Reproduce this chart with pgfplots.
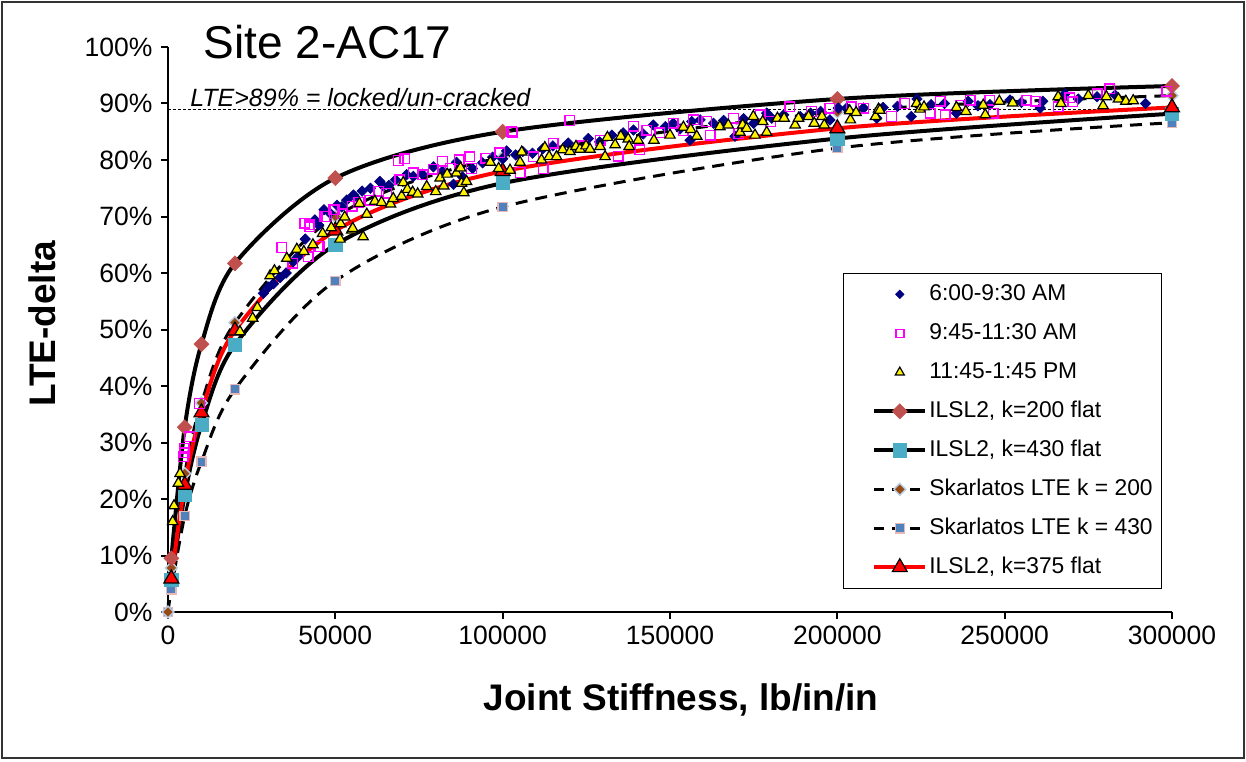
\documentclass[border=0pt]{standalone}
\usepackage{pgfplots}
\pgfplotsset{compat=1.18}
\usepackage{fontspec}
\setmainfont{Liberation Sans}
\definecolor{navyd}{RGB}{0,0,128}
\definecolor{ilsa}{RGB}{192,80,77}
\definecolor{ilsb}{RGB}{75,172,198}
\definecolor{skbrown}{RGB}{150,75,20}
\definecolor{skblue}{RGB}{79,129,189}
\definecolor{skpink}{RGB}{230,185,184}
\definecolor{skltblue}{RGB}{185,205,229}
\definecolor{mag}{RGB}{255,0,255}
\pgfplotsset{mylegimg/.style={legend image code/.code={\path (-11pt,0pt); \draw[mark repeat=2,mark phase=2,##1] plot coordinates {(0cm,0cm) (0.45cm,0cm) (0.9cm,0cm)};}}}
\begin{document}
\begin{tikzpicture}
\begin{axis}[
  at={(0pt,0pt)}, anchor=south west,
  scale only axis, width=502pt, height=282.5pt,
  xmin=0, xmax=300000, ymin=0, ymax=100,
  axis lines=left, axis line style={-, line width=1pt},
  clip=false,
  xtick={0,50000,100000,150000,200000,250000,300000},
  ytick={0,10,20,30,40,50,60,70,80,90,100},
  tick style={black, line width=1pt}, major tick length=3.25pt,
  tick align=outside,
  scaled x ticks=false,
  /pgf/number format/1000 sep={},
  /pgf/number format/assume math mode=true,
  xticklabel={\pgfmathprintnumber[fixed,precision=0,1000 sep={}]{\tick}},
  yticklabel={\pgfmathprintnumber[fixed,precision=0]{\tick}\%},
  tick label style={font=\fontsize{13.25}{16}\selectfont},
  xticklabel style={font=\fontsize{13.25}{16}\selectfont},
  yticklabel style={font=\fontsize{13.25}{16}\selectfont, xshift=-1pt},
  xlabel={Joint Stiffness, lb/in/in},
  xlabel style={font=\bfseries\fontsize{18.5}{22}\selectfont, at={(axis description cs:0.511,-0.156)}, anchor=center},
  ylabel={LTE-delta},
  ylabel style={font=\bfseries\fontsize{18.5}{22}\selectfont, at={(axis description cs:-0.1255,0.51)}, anchor=center},
  legend style={at={(rel axis cs:0.672,0.041)}, anchor=south west, draw=black, line width=0.5pt, fill=white,
    font=\fontsize{11.4}{13.5}\selectfont, inner xsep=3.5pt, inner ysep=4.25pt, row sep=7.0pt,
    nodes={inner sep=1pt, text height=8.5pt, text depth=2pt}},
  legend cell align=left,
  mylegimg,
]
% ---------- legend images (order as in the reference) ----------
\addlegendimage{only marks, mark=square*, mark size=1.5pt, mark options={rotate=45, fill=navyd, draw=navyd, line width=0.3pt}, mylegimg}
\addlegendentry{6:00-9:30 AM}
\addlegendimage{only marks, mark=square, mark size=2pt, mark options={draw=mag, line width=0.7pt}, mylegimg}
\addlegendentry{9:45-11:30 AM}
\addlegendimage{only marks, mark=triangle*, mark size=2.6pt, mark options={fill=yellow, draw=black, line width=0.6pt}, mylegimg}
\addlegendentry{11:45-1:45 PM}
\addlegendimage{black, line width=2pt, mark=square*, mark size=2.65pt, mark options={rotate=45, fill=ilsa, draw=ilsa, line width=0.3pt}}
\addlegendentry{ILSL2, k=200 flat}
\addlegendimage{black, line width=2pt, mark=square*, mark size=3.3pt, mark options={fill=ilsb, draw=ilsb, line width=0.3pt}}
\addlegendentry{ILSL2, k=430 flat}
\addlegendimage{black, line width=1.5pt, dash pattern=on 5pt off 4pt, mark=square*, mark size=2.1pt, mark options={solid, rotate=45, fill=skbrown, draw=skltblue, line width=0.7pt}}
\addlegendentry{Skarlatos LTE k = 200}
\addlegendimage{black, line width=1.5pt, dash pattern=on 5pt off 4pt, mark=square*, mark size=2.3pt, mark options={solid, fill=skblue, draw=skpink, line width=0.7pt}}
\addlegendentry{Skarlatos LTE k = 430}
\addlegendimage{red, line width=2pt, mark=triangle*, mark size=4.3pt, mark options={fill=red, draw=black, line width=0.6pt}}
\addlegendentry{ILSL2, k=375 flat}

% ---------- reference line ----------
\addplot[forget plot, black, line width=0.5pt, dash pattern=on 1.5pt off 1pt] coordinates {(0,89) (300000,89)};

% ---------- model curves ----------
\addplot[forget plot, black, line width=1.5pt, dash pattern=on 6pt off 4pt, smooth, tension=0.5,
  mark=square*, mark size=2.3pt, mark options={solid, fill=skblue, draw=skpink, line width=0.7pt}]
  coordinates {(0,0) (1000,4) (5000,17.0) (10000,26.6) (20000,39.4) (50000,58.6) (100000,71.7) (200000,82.1) (300000,86.6)};
\addplot[forget plot, black, line width=1.5pt, dash pattern=on 6pt off 4pt, smooth, tension=0.5,
  mark=square*, mark size=2.1pt, mark options={solid, rotate=45, fill=skbrown, draw=skltblue, line width=0.7pt}]
  coordinates {(0,0) (1000,7.8) (5000,24.5) (10000,37.0) (20000,51.2) (50000,70.0) (100000,80.5) (200000,88.5) (300000,91.4)};
\addplot[forget plot, black, line width=2pt, smooth, tension=0.5,
  mark=square*, mark size=2.65pt, mark options={rotate=45, fill=ilsa, draw=ilsa, line width=0.3pt}]
  coordinates {(1000,9.5) (5000,32.7) (10000,47.4) (20000,61.7) (50000,76.8) (100000,85.0) (200000,90.8) (300000,93.1)};
\addplot[forget plot, black, line width=2pt, smooth, tension=0.5,
  mark=square*, mark size=3.3pt, mark options={fill=ilsb, draw=ilsb, line width=0.3pt}]
  coordinates {(1000,5.7) (5000,20.7) (10000,33.1) (20000,47.3) (50000,65.0) (100000,75.9) (200000,83.8) (300000,88.2)};
\addplot[forget plot, red, line width=2pt, smooth, tension=0.5,
  mark=triangle*, mark size=4.3pt, mark options={fill=red, draw=black, line width=0.6pt}]
  coordinates {(1000,5.9) (5000,22.5) (10000,35.3) (20000,49.8) (50000,67.5) (100000,78.0) (200000,85.6) (300000,89.3)};

% ---------- field data ----------
\addplot[forget plot, only marks, mark=square*, mark size=1.85pt, mark options={rotate=45, fill=navyd, draw=navyd, line width=0.3pt}]
  coordinates {
(28500,56.4) (30000,57.5) (31500,58.1) (33500,59.2) (35300,60.0) (37400,62.0) (39000,63.0) (41000,66.0)
(43900,69.4) (45000,68.5) (46600,71.2) (48400,70.6) (50500,72.0) (51900,71.7) (53400,72.9) (55400,73.8)
(55800,73.5) (58000,74.5) (60500,75.0) (63300,76.2) (64300,75.4) (66000,75.5) (68000,76.5) (71300,77.4)
(73300,77.1) (76000,77.5) (79300,78.8) (82000,78.0) (85300,75.7) (86200,79.6) (88000,77.0) (91000,78.5)
(94000,79.5) (97000,80.5) (100000,80.2) (101200,81.6) (103900,80.9) (106000,81.5) (108900,81.2) (112000,82.0)
(115000,82.5) (119600,83.0) (122000,82.4) (125600,83.8) (129000,83.2) (132600,84.4) (136000,84.8) (139100,85.3)
(142000,84.6) (145000,86.2) (148600,85.9) (151000,86.5) (153000,85.5) (156000,83.5) (156500,86.8) (159000,87.1)
(163000,86.5) (166000,87.0) (169400,84.2) (172000,87.3) (175000,86.5) (178900,88.3) (180400,87.4) (184000,88.0)
(188900,87.7) (192000,88.3) (195000,88.6) (197800,87.1) (200300,89.2) (202800,89.2) (207800,89.2) (211800,87.4)
(213700,89.3) (218000,89.5) (222100,87.7) (223800,90.8) (228000,89.8) (232000,90.0) (235600,88.3) (239100,90.4)
(242000,89.6) (245600,89.8) (251600,90.6) (255000,90.2) (260600,89.2) (261400,90.4) (267700,91.2) (268000,91.7)
(272000,90.8) (277600,91.2) (283000,91.5) (292100,90.0)
  };
\addplot[forget plot, only marks, mark=square, mark size=2.4pt, mark options={draw=mag, line width=0.7pt}]
  coordinates {
(4600,27.5) (4800,29.0) (5000,28.2) (6400,31.0) (9400,36.9) (34000,64.5) (37300,61.7) (40900,68.8)
(41900,62.9) (42200,68.5) (42400,68.2) (44900,64.7) (45400,64.7) (46900,70.0) (47400,70.0) (49400,71.2)
(49900,71.2) (52000,70.5) (55000,71.8) (57000,72.5) (60300,72.9) (63000,74.5) (65300,74.1) (68800,79.9)
(69300,76.5) (70800,80.2) (73300,77.7) (76100,77.4) (79300,78.4) (82000,79.8) (84300,78.5) (87000,80.0)
(90200,80.6) (90700,78.5) (95000,80.3) (99200,81.3) (102700,85.1) (103000,84.9) (105200,77.8) (109200,80.6)
(112100,78.5) (115100,83.0) (120100,87.0) (124000,82.5) (129100,83.5) (134500,80.7) (139100,86.0) (141000,81.8)
(143100,85.3) (147000,84.8) (151000,86.5) (154000,85.2) (157000,87.1) (161000,86.8) (162000,84.4) (169000,87.4)
(170500,84.7) (177000,88.0) (180000,86.8) (185800,89.4) (192300,88.6) (197800,89.2) (204200,89.4) (207800,89.2)
(216200,87.7) (220200,90.0) (227700,88.3) (230700,90.4) (232200,88.0) (236700,89.7) (239700,90.6) (245600,90.6)
(246600,88.3) (256600,90.6) (259100,90.4) (266000,89.4) (269500,91.0) (270400,90.3) (277600,91.7) (281400,92.6)
(298400,92.2)
  };
\addplot[forget plot, only marks, mark=triangle*, mark size=3pt, mark options={fill=yellow, draw=black, line width=0.6pt}]
  coordinates {
(1400,16.0) (1800,18.8) (3100,22.8) (3600,24.5) (21500,49.6) (25300,52.0) (26700,53.9) (30500,59.5)
(31800,60.4) (35500,62.6) (38500,64.2) (40600,63.8) (43300,65.0) (46200,67.0) (48800,68.0) (51400,66.0)
(51600,68.7) (52800,69.9) (54900,67.6) (55200,67.9) (57200,72.3) (58300,66.4) (59400,70.4) (61800,72.7)
(63800,72.5) (66500,72.2) (67300,73.2) (69800,73.6) (70300,76.0) (71500,74.8) (73100,74.3) (74600,74.0)
(77300,75.3) (80000,74.4) (81300,76.8) (82400,75.4) (83400,77.5) (86200,77.7) (87400,78.6) (87700,75.9)
(88400,74.2) (89200,76.2) (96300,79.6) (98800,78.5) (102200,78.2) (105200,79.6) (105700,81.4) (111600,80.0)
(112600,82.2) (113900,80.6) (116100,80.6) (117900,81.8) (120100,81.5) (121900,82.4) (123100,81.9) (124900,82.5)
(126100,81.9) (129100,82.4) (130600,80.6) (131300,84.0) (133600,82.7) (135300,84.2) (137500,83.7) (137800,82.4)
(140500,83.5) (145200,83.5) (150000,84.4) (154000,85.8) (156200,85.4) (158000,84.2) (164900,85.9) (167400,86.2)
(170900,84.9) (171700,86.2) (172900,85.6) (174900,87.7) (175400,84.4) (177700,86.8) (178900,84.9) (182100,87.4)
(184100,87.4) (187400,86.2) (188400,87.4) (191400,87.7) (193100,86.5) (195400,87.7) (196100,86.2) (203700,88.7)
(203900,87.1) (205600,88.4) (211400,87.7) (212300,89.0) (212700,88.8) (223700,90.0) (224700,89.0) (225900,89.4)
(235600,89.3) (238400,88.6) (243600,89.7) (244200,88.0) (248400,90.4) (252400,90.1) (266000,91.2) (266800,90.0)
(275000,91.4) (279400,89.6) (280400,91.2) (284000,90.8) (286200,90.4) (288400,90.5)
  };

% ---------- texts ----------
\node[anchor=base west, inner sep=0pt, font=\fontsize{23}{27}\selectfont] at (rel axis cs:0.0349,0.979) {Site 2-AC17};
\node[anchor=base west, inner sep=0pt, font=\itshape\fontsize{12.5}{15}\selectfont] at (rel axis cs:0.0219,0.894) {LTE>89\% = locked/un-cracked};
\end{axis}
\pgfresetboundingbox
\path[use as bounding box] (-84pt,-74.5pt) rectangle (539pt,306pt);
\draw[line width=0.8pt, black!80] (-83pt,-73pt) rectangle (538pt,305pt);
\end{tikzpicture}
\end{document}
